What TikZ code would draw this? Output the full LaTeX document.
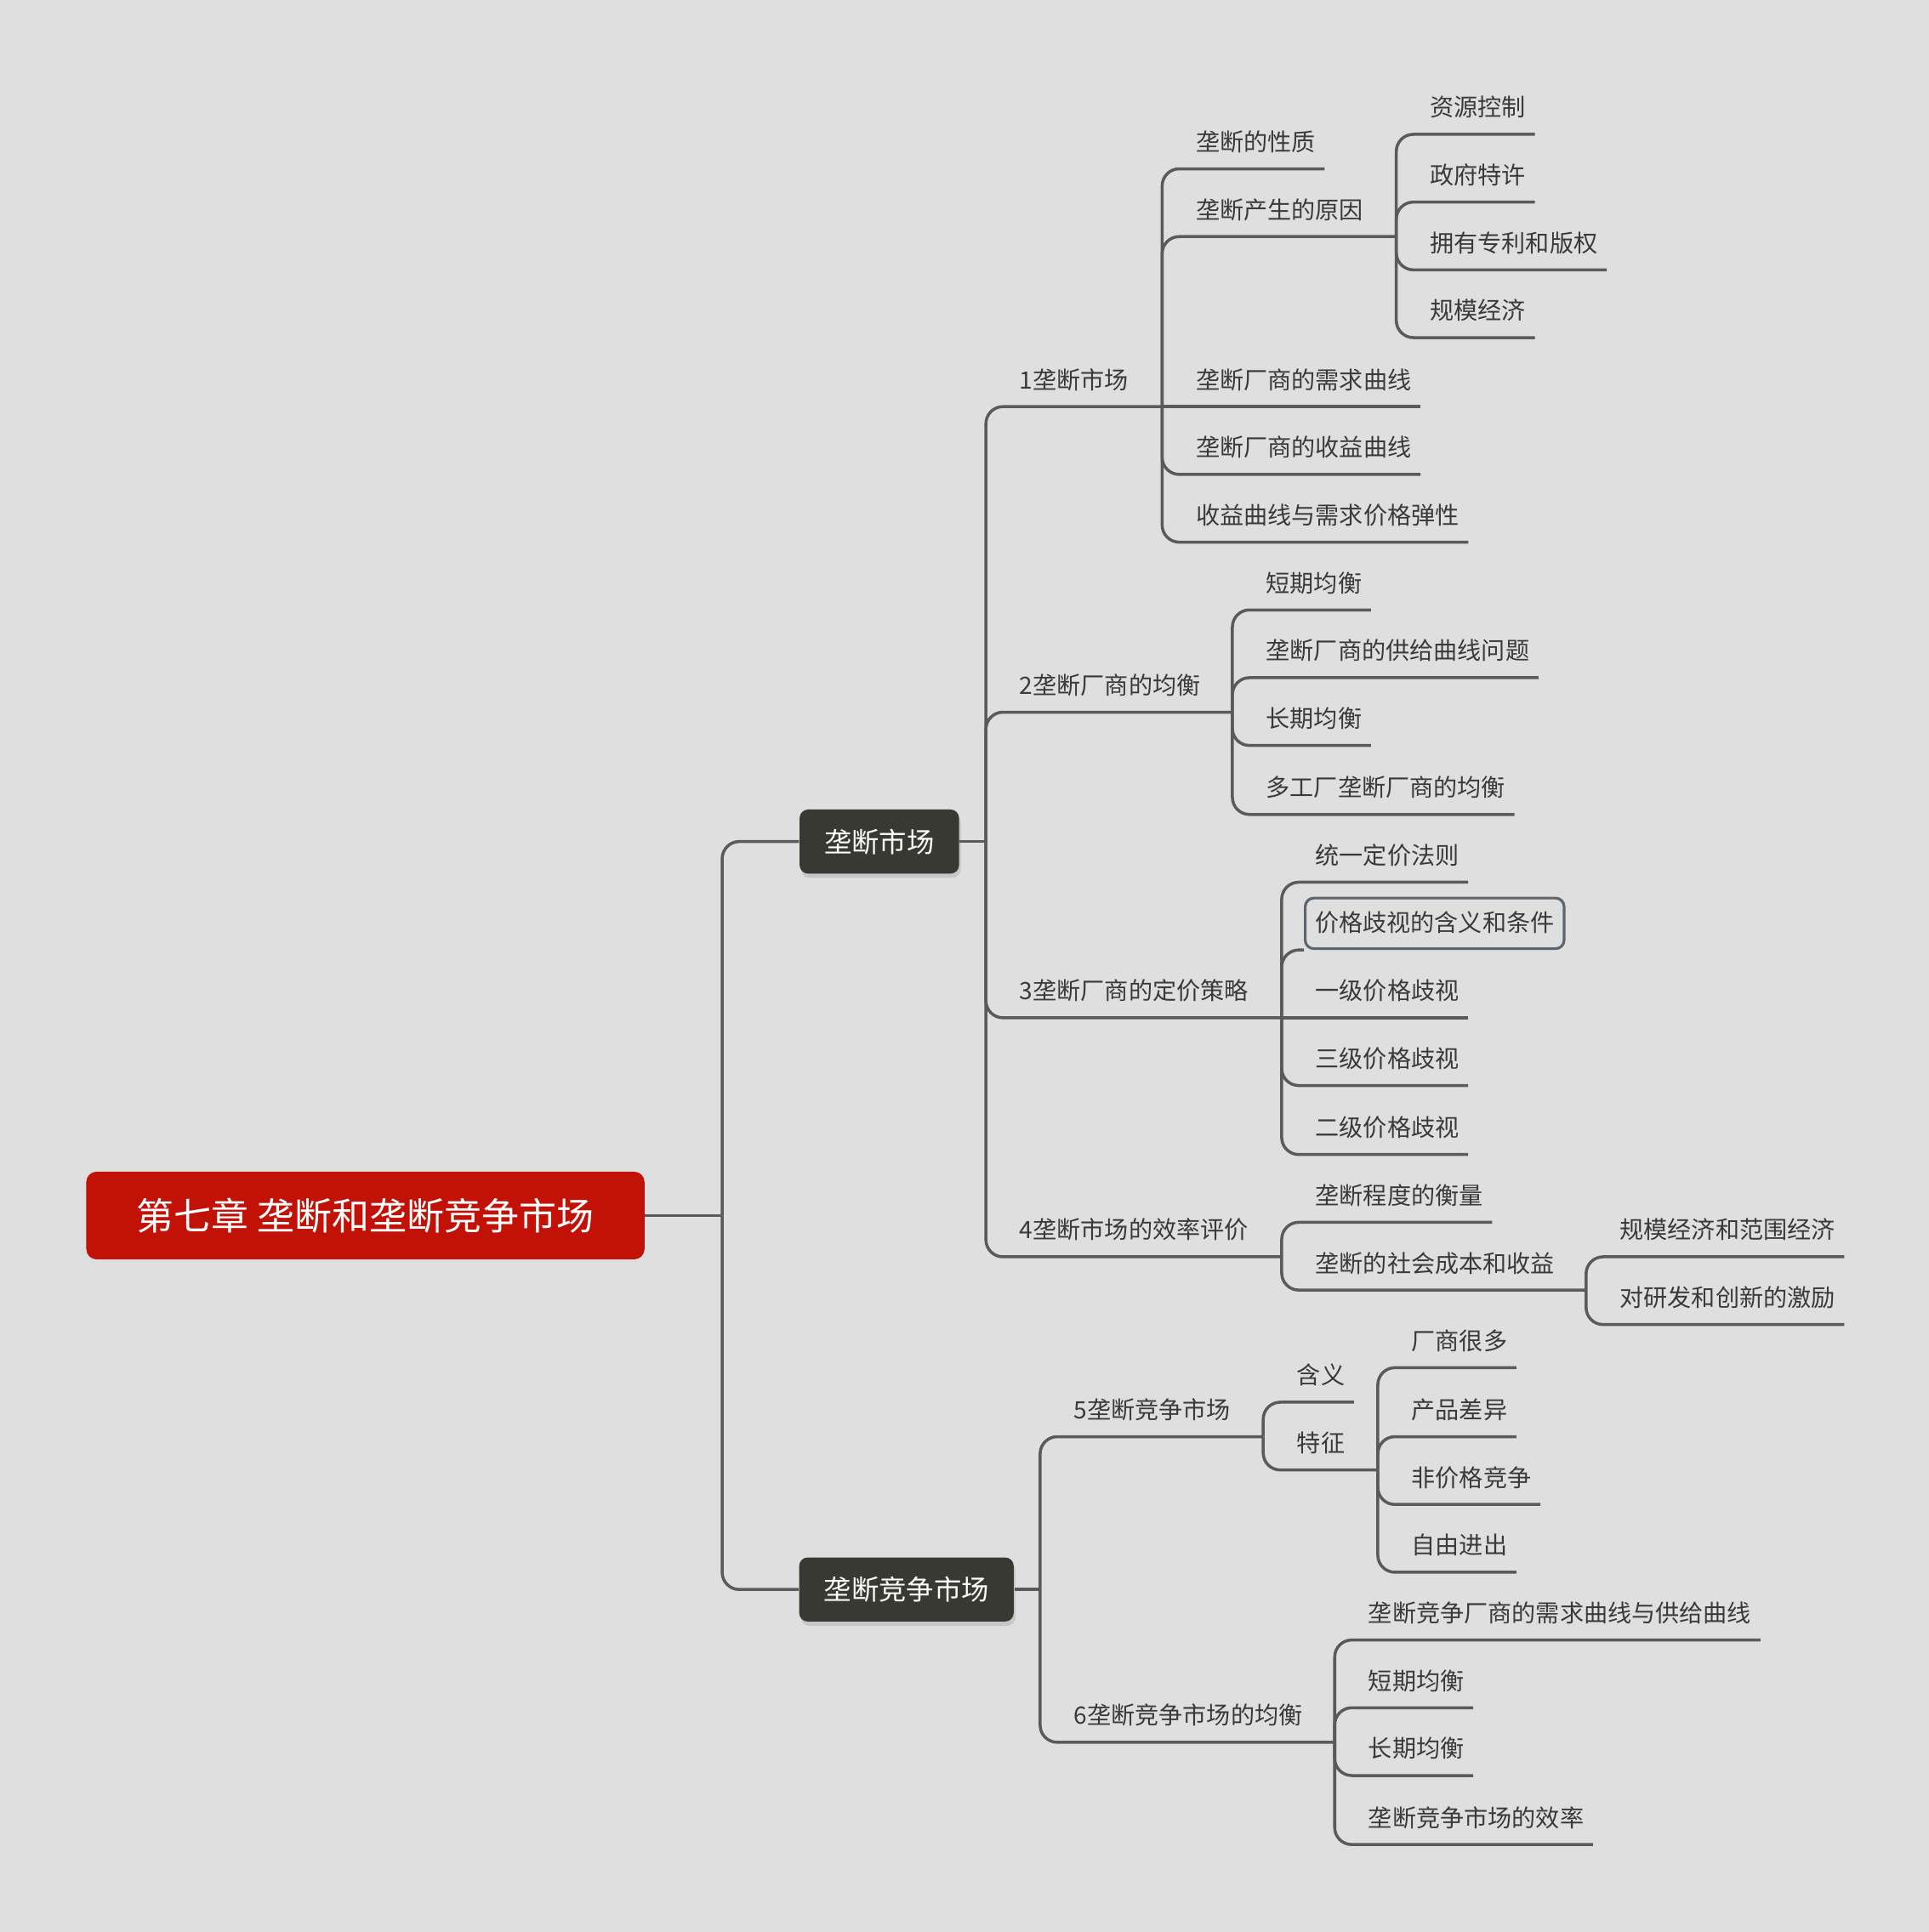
\documentclass[tikz,border=0pt]{standalone}
\usepackage{fontspec}
\setmainfont{Noto Sans CJK SC}
\usetikzlibrary{shadows}
\definecolor{bgc}{HTML}{DFDFDF}
\definecolor{linec}{HTML}{5A5A5A}
\definecolor{textc}{HTML}{3A3A3A}
\definecolor{rootc}{HTML}{C21107}
\definecolor{darkc}{HTML}{393934}
\definecolor{framec}{HTML}{5D6570}

\begin{document}
\begin{tikzpicture}[x=0.014486cm, y=-0.014486cm,
  conn/.style={draw=linec, line width=1pt, rounded corners=0.2cm},
  topic/.style={anchor=south west, inner xsep=0.1cm, inner ysep=5.8pt, text depth=0pt, text=textc, font=\fontsize{8}{10}\selectfont},
  mainbox/.style={fill=darkc, text=white, rounded corners=0.1cm, minimum height=0.753cm, inner xsep=0.29cm, font=\fontsize{9.2}{11}\selectfont, drop shadow={shadow xshift=0.02cm, shadow yshift=-0.05cm, opacity=0.25}}]
  \fill[bgc] (0,0) rectangle (1565,1568);
  \useasboundingbox (0,0) rectangle (1565,1568);

  % branch points
  \coordinate (tR) at (586,986.5);
  \coordinate (tA) at (800,683);
  \coordinate (tB) at (844,1290);
  \coordinate (t1) at (943,330);
  \coordinate (t11) at (1133,192);
  \coordinate (t2) at (1000,578);
  \coordinate (t3) at (1040,826);
  \coordinate (t4) at (1040,1020);
  \coordinate (t42) at (1287,1047);
  \coordinate (t5) at (1025,1166);
  \coordinate (t52) at (1118,1193);
  \coordinate (t6) at (1083,1414);

  \node[fill=rootc, text=white, rounded corners=0.12cm, minimum height=1.03cm, inner xsep=0.594cm, font=\fontsize{12.5}{15}\selectfont] (root) at (296.5,986.5) {第七章 垄断和垄断竞争市场};
  \node[mainbox] (m1) at (713.5,683) {垄断市场};
  \node[mainbox] (m2) at (735.5,1290) {垄断竞争市场};

  \node[topic] (n1) at (820,330) {1垄断市场};
  \node[topic] (n2) at (820,578) {2垄断厂商的均衡};
  \node[topic] (n3) at (820,826) {3垄断厂商的定价策略};
  \node[topic] (n4) at (820,1020) {4垄断市场的效率评价};
  \node[topic] (n5) at (864,1166) {5垄断竞争市场};
  \node[topic] (n6) at (864,1414) {6垄断竞争市场的均衡};

  \node[topic] (n11) at (963,137) {垄断的性质};
  \node[topic] (n12) at (963,192) {垄断产生的原因};
  \node[topic] (n13) at (963,330) {垄断厂商的需求曲线};
  \node[topic] (n14) at (963,385) {垄断厂商的收益曲线};
  \node[topic] (n15) at (963,440) {收益曲线与需求价格弹性};

  \node[topic] (n121) at (1153,109) {资源控制};
  \node[topic] (n122) at (1153,164) {政府特许};
  \node[topic] (n123) at (1153,219) {拥有专利和版权};
  \node[topic] (n124) at (1153,274) {规模经济};

  \node[topic] (n21) at (1020,495) {短期均衡};
  \node[topic] (n22) at (1020,550) {垄断厂商的供给曲线问题};
  \node[topic] (n23) at (1020,605) {长期均衡};
  \node[topic] (n24) at (1020,661) {多工厂垄断厂商的均衡};

  \node[topic] (n31) at (1060,716) {统一定价法则};
  \node[topic, draw=framec, line width=0.9pt, rounded corners=0.1cm, inner xsep=0.115cm, inner ysep=5.7pt, text height=5.5pt] (n32) at (1058,771) {价格歧视的含义和条件};
  \node[topic] (n33) at (1060,826) {一级价格歧视};
  \node[topic] (n34) at (1060,881) {三级价格歧视};
  \node[topic] (n35) at (1060,937) {二级价格歧视};

  \node[topic] (n41) at (1060,992) {垄断程度的衡量};
  \node[topic] (n42) at (1060,1047) {垄断的社会成本和收益};
  \node[topic] (n421) at (1307,1020) {规模经济和范围经济};
  \node[topic] (n422) at (1307,1075) {对研发和创新的激励};

  \node[topic] (n51) at (1045,1138) {含义};
  \node[topic] (n52) at (1045,1193) {特征};
  \node[topic] (n521) at (1138,1110) {厂商很多};
  \node[topic] (n522) at (1138,1166) {产品差异};
  \node[topic] (n523) at (1138,1221) {非价格竞争};
  \node[topic] (n524) at (1138,1276) {自由进出};

  \node[topic] (n61) at (1103,1331) {垄断竞争厂商的需求曲线与供给曲线};
  \node[topic] (n62) at (1103,1386) {短期均衡};
  \node[topic] (n63) at (1103,1441) {长期均衡};
  \node[topic] (n64) at (1103,1497) {垄断竞争市场的效率};

  % connectors
  \draw[conn] (root.east) -- (tR);
  \draw[conn] (tR) |- (m1.west);
  \draw[conn] (tR) |- (m2.west);
  \draw[conn] (m1.east) -- (tA);
  \draw[conn] (m2.east) -- (tB);
  \foreach \a/\b in {tA/t1, tA/t2, tA/t3, tA/t4, tB/t5, tB/t6, t1/t11, t4/t42, t5/t52}
    \draw[conn] (\a) |- (\b);
  \foreach \a/\b in {t1/n11, t1/n14, t1/n15, t11/n121, t11/n122, t11/n123, t11/n124,
      t2/n21, t2/n22, t2/n23, t2/n24, t3/n31, t3/n34, t3/n35, t4/n41,
      t42/n421, t42/n422, t5/n51, t52/n521, t52/n522, t52/n523, t52/n524,
      t6/n61, t6/n62, t6/n63, t6/n64}
    \draw[conn] (\a) |- (\b.south east);
  \draw[conn] (t1) -- (n13.south east);
  \draw[conn] (t3) -- (n33.south east);
  \draw[conn] (t3) |- (n32.south west);
\end{tikzpicture}
\end{document}
